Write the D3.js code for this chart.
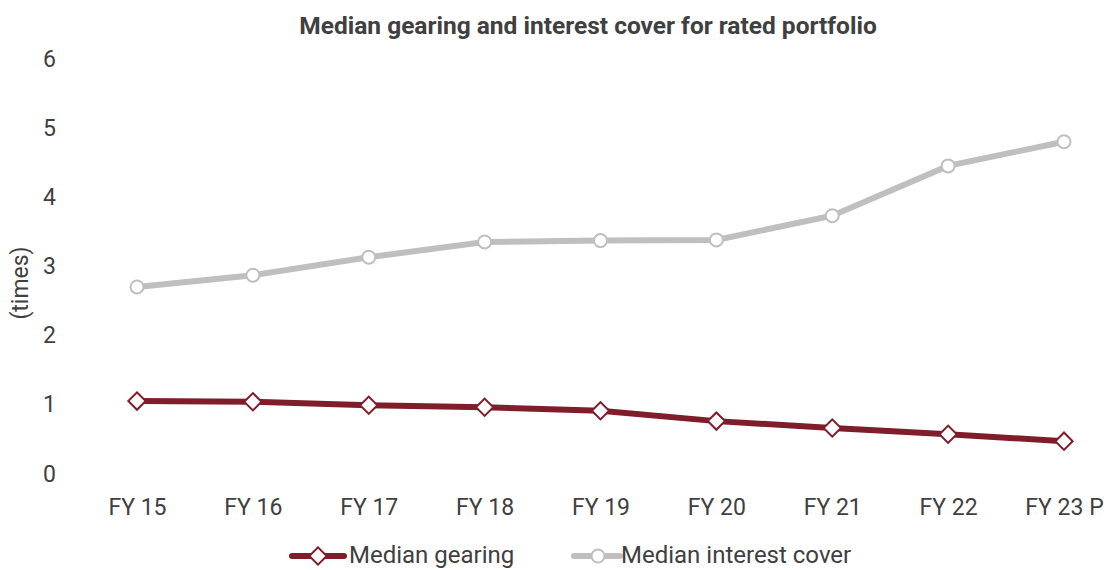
<!DOCTYPE html>
<html>
<head>
<meta charset="utf-8">
<script src="https://cdn.jsdelivr.net/npm/d3@7"></script>
<style>
  body { margin: 0; background: #fff; }
  text { font-family: Roboto, "Open Sans", sans-serif; fill: #404040; }
</style>
</head>
<body>
<svg id="chart" width="1107" height="570"></svg>
<script>
const years = ["FY 15", "FY 16", "FY 17", "FY 18", "FY 19", "FY 20", "FY 21", "FY 22", "FY 23 P"];
const gearing = [1.04, 1.03, 0.98, 0.95, 0.90, 0.75, 0.65, 0.56, 0.46];
const interestCover = [2.69, 2.86, 3.12, 3.34, 3.36, 3.37, 3.72, 4.44, 4.79];
const yTicks = [0, 1, 2, 3, 4, 5, 6];

const svg = d3.select("#chart");
const red = "#7f1d2a", grey = "#bfbfbf";

const x = d3.scalePoint().domain(years).range([137, 1064]);
const y = d3.scaleLinear().domain([0, 6]).range([473, 58]);

// title
svg.append("text")
  .attr("x", 588).attr("y", 34)
  .attr("text-anchor", "middle")
  .style("font-size", "24.5px").style("font-weight", "bold")
  .text("Median gearing and interest cover for rated portfolio");

// y axis labels only
const yAxis = svg.append("g")
  .attr("transform", "translate(56,0)")
  .call(d3.axisLeft(y).tickValues(yTicks).tickFormat(d3.format("d")).tickSize(0).tickPadding(0));
yAxis.select(".domain").remove();
yAxis.selectAll("text").style("font-size", "23px").attr("fill", "#404040").attr("dy", "0.35em");

svg.append("text")
  .attr("transform", "translate(28,283) rotate(-90)")
  .attr("text-anchor", "middle")
  .style("font-size", "23px")
  .text("(times)");

// x axis labels
const xAxis = svg.append("g")
  .attr("transform", "translate(0,507)")
  .call(d3.axisBottom(x).tickSize(0).tickPadding(0));
xAxis.select(".domain").remove();
xAxis.selectAll("text").style("font-size", "23px").attr("fill", "#404040").attr("dy", "0.35em");

const line = d3.line().x((d, i) => x(years[i])).y(d => y(d));

svg.append("path").datum(interestCover)
  .attr("d", line).attr("fill", "none")
  .attr("stroke", grey).attr("stroke-width", 6);
svg.selectAll(".ic").data(interestCover).enter().append("circle")
  .attr("class", "ic")
  .attr("cx", (d, i) => x(years[i])).attr("cy", d => y(d)).attr("r", 6.5)
  .attr("fill", "#fff").attr("stroke", grey).attr("stroke-width", 2);

svg.append("path").datum(gearing)
  .attr("d", line).attr("fill", "none")
  .attr("stroke", red).attr("stroke-width", 6);
const diamond = d3.symbol().type(d3.symbolSquare).size(150);
svg.selectAll(".gr").data(gearing).enter().append("path")
  .attr("class", "gr")
  .attr("d", diamond)
  .attr("transform", (d, i) => "translate(" + x(years[i]) + "," + y(d) + ") rotate(45)")
  .attr("fill", "#fff").attr("stroke", red).attr("stroke-width", 2);

// legend
const legend = svg.append("g");
legend.append("line").attr("x1", 292).attr("x2", 344).attr("y1", 556).attr("y2", 556)
  .attr("stroke", red).attr("stroke-width", 6).attr("stroke-linecap", "round");
legend.append("path").attr("d", diamond)
  .attr("transform", "translate(318,556) rotate(45)")
  .attr("fill", "#fff").attr("stroke", red).attr("stroke-width", 2);
legend.append("text").attr("x", 349).attr("y", 563)
  .style("font-size", "24px").text("Median gearing");

legend.append("line").attr("x1", 574).attr("x2", 620).attr("y1", 556).attr("y2", 556)
  .attr("stroke", grey).attr("stroke-width", 6).attr("stroke-linecap", "round");
legend.append("circle").attr("cx", 598).attr("cy", 556).attr("r", 6.5)
  .attr("fill", "#fff").attr("stroke", grey).attr("stroke-width", 2);
legend.append("text").attr("x", 621).attr("y", 563)
  .style("font-size", "24px").text("Median interest cover");
</script>
</body>
</html>
